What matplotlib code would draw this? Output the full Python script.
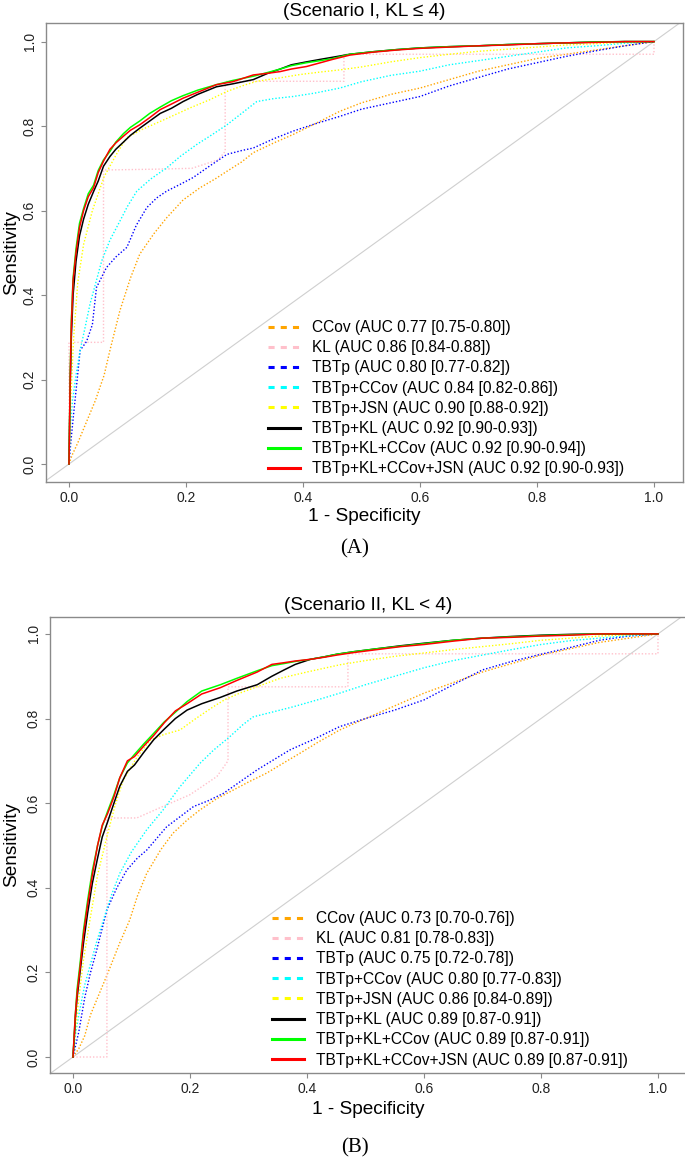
import matplotlib
matplotlib.use('Agg')
import matplotlib.pyplot as plt
from matplotlib.lines import Line2D

plt.rcParams['font.family'] = ['Liberation Sans', 'DejaVu Sans']

# series names / colours / legend text
names = ['CCov', 'KL', 'TBTp', 'TBTp+CCov', 'TBTp+JSN', 'TBTp+KL', 'TBTp+KL+CCov', 'TBTp+KL+CCov+JSN']
colors = ['#FFA500', '#FFC0CB', '#0000FF', '#00FFFF', '#FFFF00', '#000000', '#00FF00', '#FF0000']
auc_a = ['0.77 [0.75-0.80]', '0.86 [0.84-0.88]', '0.80 [0.77-0.82]', '0.84 [0.82-0.86]',
         '0.90 [0.88-0.92]', '0.92 [0.90-0.93]', '0.92 [0.90-0.94]', '0.92 [0.90-0.93]']
auc_b = ['0.73 [0.70-0.76]', '0.81 [0.78-0.83]', '0.75 [0.72-0.78]', '0.80 [0.77-0.83]',
         '0.86 [0.84-0.89]', '0.89 [0.87-0.91]', '0.89 [0.87-0.91]', '0.89 [0.87-0.91]']

# ---- Scenario I (A) ----
ccov_a_x = [0, 0.005, 0.015, 0.03, 0.045, 0.06, 0.07, 0.087, 0.105, 0.121, 0.145, 0.167, 0.195, 0.224, 0.25,
            0.27, 0.295, 0.315, 0.35, 0.383, 0.42, 0.463, 0.5, 0.55, 0.6, 0.65, 0.7, 0.75, 0.8, 0.85, 0.9, 0.95, 1.0]
ccov_a_y = [0, 0.02, 0.05, 0.10, 0.15, 0.21, 0.269, 0.363, 0.44, 0.497, 0.545, 0.583, 0.625, 0.654, 0.675,
            0.693, 0.715, 0.737, 0.76, 0.78, 0.805, 0.835, 0.855, 0.875, 0.89, 0.91, 0.93, 0.945, 0.96, 0.97, 0.98, 0.99, 1.0]
kl_a_x = [0, 0, 0.059, 0.059, 0.15, 0.21, 0.255, 0.267, 0.267, 0.47, 0.47, 1.0, 1.0]
kl_a_y = [0, 0.288, 0.288, 0.696, 0.698, 0.70, 0.72, 0.74, 0.906, 0.906, 0.97, 0.97, 1.0]
tbtp_a_x = [0, 0.003, 0.008, 0.014, 0.019, 0.03, 0.04, 0.047, 0.064, 0.08, 0.099, 0.115, 0.133, 0.15, 0.167,
            0.19, 0.212, 0.24, 0.27, 0.295, 0.315, 0.35, 0.383, 0.42, 0.463, 0.5, 0.55, 0.6, 0.65, 0.7,
            0.75, 0.8, 0.85, 0.9, 0.95, 1.0]
tbtp_a_y = [0, 0.05, 0.12, 0.2, 0.269, 0.29, 0.33, 0.418, 0.465, 0.49, 0.513, 0.565, 0.607, 0.63, 0.646,
            0.662, 0.678, 0.705, 0.733, 0.742, 0.748, 0.77, 0.788, 0.805, 0.823, 0.84, 0.855, 0.87, 0.895, 0.915,
            0.935, 0.95, 0.965, 0.978, 0.99, 1.0]
tc_a_x = [0, 0.002, 0.006, 0.012, 0.019, 0.027, 0.036, 0.046, 0.056, 0.07, 0.087, 0.1, 0.116, 0.14, 0.167,
          0.19, 0.218, 0.245, 0.27, 0.295, 0.321, 0.35, 0.383, 0.42, 0.463, 0.5, 0.55, 0.6, 0.65, 0.7,
          0.75, 0.8, 0.85, 0.9, 0.95, 1.0]
tc_a_y = [0, 0.08, 0.15, 0.21, 0.269, 0.32, 0.379, 0.43, 0.481, 0.53, 0.575, 0.61, 0.646, 0.675, 0.701,
          0.728, 0.756, 0.78, 0.803, 0.83, 0.858, 0.865, 0.87, 0.878, 0.89, 0.905, 0.92, 0.93, 0.945, 0.955,
          0.965, 0.975, 0.985, 0.99, 0.996, 1.0]
tj_a_x = [0, 0.003, 0.008, 0.015, 0.025, 0.04, 0.06, 0.081, 0.098, 0.125, 0.156, 0.18, 0.207, 0.24, 0.27,
          0.3, 0.321, 0.36, 0.395, 0.43, 0.463, 0.5, 0.55, 0.6, 0.65, 0.7, 0.75, 0.8, 0.85, 0.9, 0.95, 1.0]
tj_a_y = [0, 0.15, 0.3, 0.43, 0.52, 0.6, 0.68, 0.733, 0.772, 0.792, 0.811, 0.826, 0.843, 0.862, 0.882,
          0.897, 0.906, 0.914, 0.922, 0.928, 0.933, 0.94, 0.952, 0.962, 0.97, 0.977, 0.982, 0.987, 0.992, 0.995, 0.998, 1.0]
# the three solid curves are read at the same fpr positions
solid_x = [0, 0.002, 0.004, 0.007, 0.012, 0.018, 0.025, 0.033, 0.042, 0.05, 0.059, 0.07, 0.08, 0.093, 0.105,
           0.121, 0.138, 0.156, 0.175, 0.195, 0.22, 0.252, 0.28, 0.315, 0.34, 0.361, 0.38, 0.406, 0.43, 0.451,
           0.48, 0.52, 0.56, 0.6, 0.65, 0.7, 0.75, 0.8, 0.85, 0.9, 0.95, 1.0]
tk_a_y = [0, 0.18, 0.3, 0.4, 0.48, 0.54, 0.58, 0.615, 0.645, 0.67, 0.705, 0.728, 0.745, 0.762, 0.778,
          0.795, 0.812, 0.83, 0.842, 0.858, 0.875, 0.893, 0.9, 0.91, 0.925, 0.935, 0.945, 0.952, 0.958, 0.963,
          0.97, 0.976, 0.981, 0.985, 0.988, 0.99, 0.993, 0.995, 0.997, 0.999, 1.0, 1.0]
tkc_a_y = [0, 0.21, 0.34, 0.44, 0.51, 0.57, 0.605, 0.64, 0.66, 0.695, 0.72, 0.74, 0.762, 0.782, 0.797,
           0.812, 0.83, 0.845, 0.86, 0.872, 0.885, 0.898, 0.908, 0.918, 0.927, 0.935, 0.943, 0.95, 0.955, 0.96,
           0.97, 0.976, 0.981, 0.985, 0.988, 0.99, 0.993, 0.995, 0.997, 0.999, 1.0, 1.0]
tkcj_a_y = [0, 0.2, 0.33, 0.434, 0.5, 0.56, 0.6, 0.633, 0.654, 0.69, 0.717, 0.745, 0.76, 0.776, 0.79,
            0.803, 0.82, 0.839, 0.852, 0.866, 0.88, 0.898, 0.905, 0.921, 0.925, 0.929, 0.935, 0.941, 0.95, 0.958,
            0.968, 0.975, 0.98, 0.984, 0.987, 0.99, 0.992, 0.995, 0.997, 0.998, 1.0, 1.0]

# ---- Scenario II (B) ----
ccov_b_x = [0, 0.01, 0.02, 0.03, 0.045, 0.06, 0.08, 0.097, 0.11, 0.126, 0.15, 0.171, 0.195, 0.217, 0.245,
            0.274, 0.3, 0.331, 0.36, 0.388, 0.42, 0.456, 0.5, 0.55, 0.6, 0.65, 0.7, 0.75, 0.8, 0.85, 0.9, 0.95, 1.0]
ccov_b_y = [0, 0.02, 0.05, 0.1, 0.15, 0.2, 0.27, 0.324, 0.38, 0.434, 0.49, 0.529, 0.56, 0.584, 0.61,
            0.631, 0.65, 0.671, 0.695, 0.718, 0.745, 0.773, 0.8, 0.83, 0.86, 0.885, 0.91, 0.93, 0.95, 0.965, 0.98, 0.99, 1.0]
kl_b_x = [0, 0.058, 0.058, 0.109, 0.15, 0.2, 0.246, 0.265, 0.265, 0.47, 0.47, 1.0, 1.0]
kl_b_y = [0, 0, 0.565, 0.565, 0.59, 0.62, 0.663, 0.70, 0.875, 0.875, 0.953, 0.953, 1.0]
tbtp_b_x = [0, 0.005, 0.01, 0.02, 0.03, 0.04, 0.058, 0.075, 0.092, 0.11, 0.126, 0.16, 0.185, 0.206, 0.23,
            0.257, 0.285, 0.314, 0.34, 0.371, 0.41, 0.456, 0.5, 0.55, 0.6, 0.65, 0.7, 0.75, 0.8, 0.85, 0.9, 0.95, 1.0]
tbtp_b_y = [0, 0.03, 0.06, 0.14, 0.2, 0.25, 0.348, 0.4, 0.442, 0.47, 0.489, 0.544, 0.57, 0.592, 0.605,
            0.623, 0.65, 0.678, 0.7, 0.726, 0.75, 0.781, 0.8, 0.82, 0.844, 0.88, 0.915, 0.935, 0.952, 0.968, 0.985, 0.995, 1.0]
tc_b_x = [0, 0.005, 0.01, 0.02, 0.03, 0.04, 0.052, 0.065, 0.08, 0.1, 0.126, 0.154, 0.183, 0.217, 0.24,
          0.268, 0.29, 0.308, 0.34, 0.377, 0.42, 0.456, 0.5, 0.55, 0.6, 0.65, 0.7, 0.75, 0.8, 0.85, 0.9, 0.95, 1.0]
tc_b_y = [0, 0.06, 0.1, 0.17, 0.22, 0.27, 0.324, 0.38, 0.434, 0.485, 0.537, 0.584, 0.639, 0.694, 0.725,
          0.757, 0.785, 0.804, 0.815, 0.828, 0.845, 0.86, 0.88, 0.9, 0.92, 0.937, 0.95, 0.963, 0.975, 0.984, 0.99, 0.996, 1.0]
tj_b_x = [0, 0.004, 0.01, 0.018, 0.029, 0.042, 0.058, 0.072, 0.086, 0.11, 0.132, 0.155, 0.183, 0.21, 0.24,
          0.26, 0.285, 0.32, 0.354, 0.4, 0.456, 0.5, 0.55, 0.6, 0.65, 0.7, 0.75, 0.8, 0.85, 0.9, 0.95, 1.0]
tj_b_y = [0, 0.06, 0.14, 0.23, 0.324, 0.43, 0.521, 0.595, 0.655, 0.71, 0.749, 0.762, 0.773, 0.8, 0.828,
          0.845, 0.86, 0.878, 0.895, 0.91, 0.927, 0.937, 0.947, 0.955, 0.963, 0.97, 0.977, 0.985, 0.99, 0.995, 0.998, 1.0]
tk_b_y = [0, 0.04, 0.09, 0.14, 0.2, 0.27, 0.34, 0.41, 0.47, 0.52, 0.555, 0.6, 0.64, 0.675, 0.69,
          0.72, 0.75, 0.775, 0.8, 0.82, 0.835, 0.85, 0.865, 0.88, 0.9, 0.915, 0.928, 0.94, 0.946, 0.952,
          0.958, 0.965, 0.972, 0.978, 0.985, 0.99, 0.994, 0.997, 0.999, 1.0, 1.0, 1.0]
tkc_b_y = [0, 0.05, 0.1, 0.16, 0.22, 0.3, 0.37, 0.44, 0.5, 0.545, 0.58, 0.62, 0.66, 0.695, 0.715,
           0.74, 0.765, 0.792, 0.815, 0.84, 0.865, 0.88, 0.895, 0.913, 0.925, 0.93, 0.935, 0.94, 0.946, 0.952,
           0.958, 0.965, 0.971, 0.977, 0.985, 0.99, 0.993, 0.996, 0.998, 1.0, 1.0, 1.0]
tkcj_b_y = [0, 0.05, 0.1, 0.15, 0.21, 0.29, 0.36, 0.43, 0.5, 0.548, 0.575, 0.615, 0.66, 0.70, 0.71,
            0.735, 0.76, 0.79, 0.818, 0.835, 0.858, 0.873, 0.89, 0.91, 0.928, 0.932, 0.936, 0.94, 0.945, 0.95,
            0.956, 0.963, 0.97, 0.975, 0.983, 0.99, 0.992, 0.995, 0.997, 1.0, 1.0, 1.0]

curves_a = [(ccov_a_x, ccov_a_y), (kl_a_x, kl_a_y), (tbtp_a_x, tbtp_a_y), (tc_a_x, tc_a_y), (tj_a_x, tj_a_y),
            (solid_x, tk_a_y), (solid_x, tkc_a_y), (solid_x, tkcj_a_y)]
curves_b = [(ccov_b_x, ccov_b_y), (kl_b_x, kl_b_y), (tbtp_b_x, tbtp_b_y), (tc_b_x, tc_b_y), (tj_b_x, tj_b_y),
            (solid_x, tk_b_y), (solid_x, tkc_b_y), (solid_x, tkcj_b_y)]

W, H = 685, 1162
fig = plt.figure(figsize=(W / 100, H / 100), dpi=100)
grey = '#8a8a8a'


def px_axes(left, top, right, bottom):
    return fig.add_axes([left / W, 1 - bottom / H, (right - left) / W, (bottom - top) / H])


def roc_panel(ax, curves, aucs, title, tag, xlim, ylim, title_y, xlab_y, tag_y):
    ax.axline((0, 0), (1, 1), color='#cfcfcf', lw=0.8, zorder=1)
    for i, (xs, ys) in enumerate(curves):
        if i < 5:
            ax.plot(xs, ys, color=colors[i], lw=1.0, linestyle=(0, (1, 1.4)), zorder=2)
        else:
            ax.plot(xs, ys, color=colors[i], lw=1.1, zorder=3)
    ax.set_xlim(*xlim)
    ax.set_ylim(*ylim)
    ax.set_xticks([0, 0.2, 0.4, 0.6, 0.8, 1.0])
    ax.set_yticks([0, 0.2, 0.4, 0.6, 0.8, 1.0])
    ax.set_xticklabels(['0.0', '0.2', '0.4', '0.6', '0.8', '1.0'])
    ax.set_yticklabels(['0.0', '0.2', '0.4', '0.6', '0.8', '1.0'], rotation=90, va='center')
    ax.tick_params(length=3.6, width=0.8, color=grey, labelsize=10, labelcolor='#222222')
    ax.tick_params(axis='x', pad=3)
    ax.tick_params(axis='y', pad=3)
    for s in ax.spines.values():
        s.set_color(grey)
        s.set_linewidth(1.0)

    handles = []
    for i in range(8):
        if i < 5:
            handles.append(Line2D([], [], color=colors[i], lw=2.2, dashes=(2.0, 2.0)))
        else:
            handles.append(Line2D([], [], color=colors[i], lw=2.2))
    labels = [f'{n} (AUC {a})' for n, a in zip(names, aucs)]
    ax.legend(handles, labels, loc='lower left', bbox_to_anchor=(0.3485, 0.012), frameon=False,
              fontsize=11.2, borderpad=0, borderaxespad=0, handlelength=2.05, handletextpad=0.75,
              labelspacing=0.335)

    pos = ax.get_position()
    cx = pos.x0 + pos.width / 2
    fig.text(cx, 1 - title_y / H, title, ha='center', va='center', fontsize=13.7)
    fig.text(cx, 1 - xlab_y / H, '1 - Specificity', ha='center', va='center', fontsize=13.7)
    fig.text(12 / W, pos.y0 + pos.height / 2, 'Sensitivity', ha='center', va='center', rotation=90,
             fontsize=13.7)
    fig.text(355 / W, 1 - tag_y / H, tag, ha='center', va='center', fontsize=15,
             family=['Liberation Serif', 'DejaVu Serif'])


ax_a = px_axes(46, 23, 683, 482)
roc_panel(ax_a, curves_a, auc_a, '(Scenario I, KL \u2264 4)', '(A)',
          (-0.0393, 1.0496), (-0.0426, 1.044), 12, 517, 549)

ax_b = px_axes(50, 617, 687, 1073)
roc_panel(ax_b, curves_b, auc_b, '(Scenario II, KL < 4)', '(B)',
          (-0.0393, 1.0496), (-0.0378, 1.040), 605, 1110, 1148)

fig.savefig('out.png', dpi=100)
